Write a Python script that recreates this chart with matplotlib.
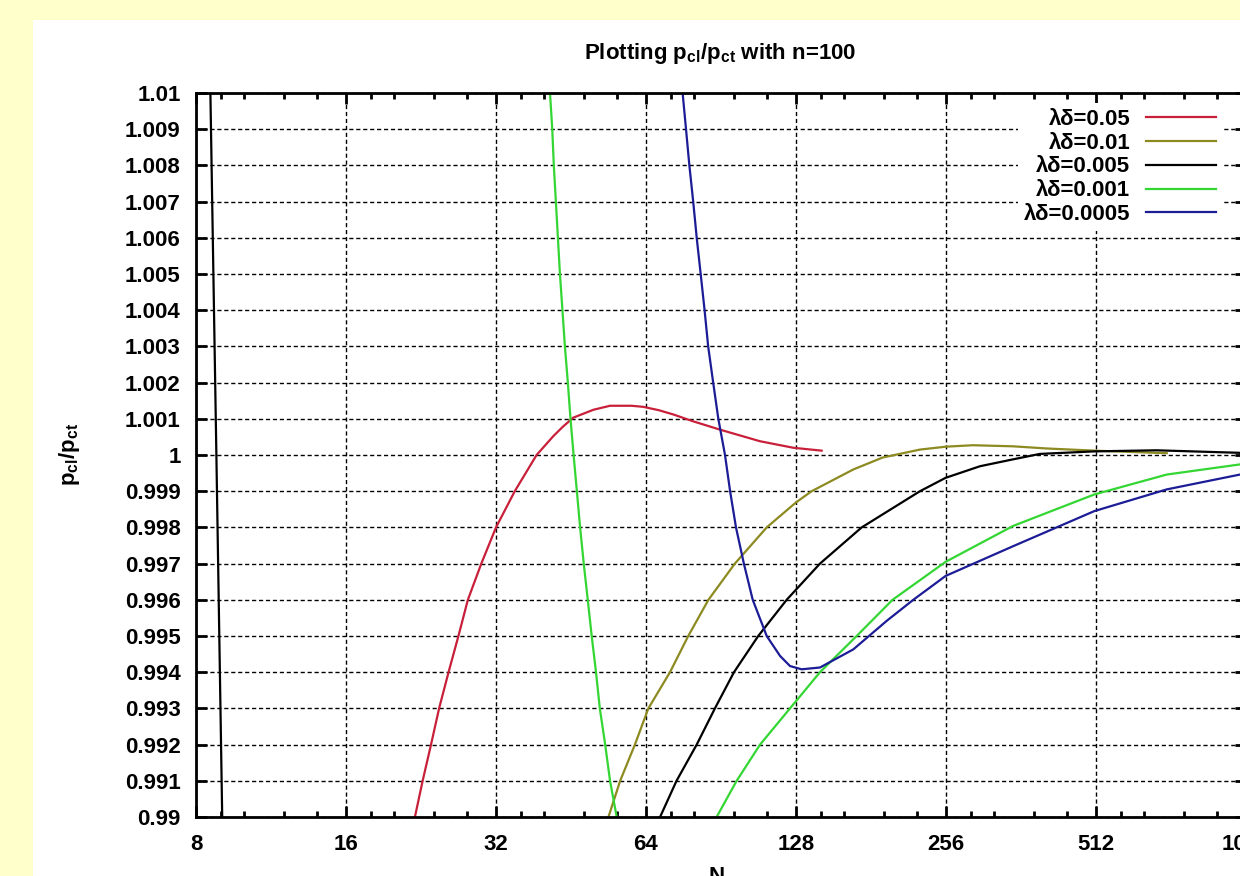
import matplotlib.pyplot as plt
from matplotlib.patches import Rectangle
from matplotlib.ticker import FixedLocator, NullFormatter

plt.rcParams['font.family'] = ['Liberation Sans', 'DejaVu Sans']
plt.rcParams['font.weight'] = 'bold'
plt.rcParams['mathtext.fontset'] = 'custom'
plt.rcParams['mathtext.rm'] = 'Liberation Sans:bold'
plt.rcParams['mathtext.default'] = 'rm'

# series values (N, p_cl/p_ct)
red_N = [22.0, 22.8, 23.7, 24.6, 25.7, 26.9, 28.1, 29.9, 32.0, 34.9, 38.6, 41.7, 43.5, 45.7,
         50.2, 54.2, 59.9, 63.2, 67.8, 72.6, 79.6, 90.1, 108.4, 126.4, 144.1]
red_v = [0.990, 0.991, 0.992, 0.993, 0.994, 0.995, 0.996, 0.997, 0.998, 0.999, 1.000, 1.00052,
         1.00077, 1.00103, 1.00125, 1.00136, 1.00136, 1.00133, 1.00124, 1.00112, 1.00093,
         1.0007, 1.00038, 1.0002, 1.00012]

olive_N = [53.8, 56.8, 60.8, 64.7, 71.5, 77.8, 85.4, 96.5, 111.8, 128, 137.6, 166.8, 191,
           227, 256, 290, 349, 408, 508, 710]
olive_v = [0.990, 0.991, 0.992, 0.993, 0.994, 0.995, 0.996, 0.997, 0.998, 0.99869, 0.999,
           0.9996, 0.99993, 1.00015, 1.00023, 1.00027, 1.00024, 1.00018, 1.00012, 1.00005]

black_N1 = [8.55, 8.79, 9.03]
black_v1 = [1.010, 1.000, 0.990]
black_N2 = [68.3, 73.7, 80.9, 88.0, 96.1, 107.5, 122.6, 143, 173.4, 227, 255.6, 299.6,
            349, 395, 508, 677, 996]
black_v2 = [0.990, 0.991, 0.992, 0.993, 0.994, 0.995, 0.996, 0.997, 0.998, 0.999, 0.99937,
            0.99969, 0.99988, 1.00003, 1.0001, 1.00013, 1.00006]

green_N1 = [41.07, 41.5, 41.8, 42.2, 42.6, 43.0, 43.5, 44.0, 44.6, 45.15, 45.8, 46.5, 47.2,
            48.0, 48.9, 49.8, 50.8, 51.7, 53.0, 54.2, 55.9]
green_v1 = [1.010, 1.009, 1.008, 1.007, 1.006, 1.005, 1.004, 1.003, 1.002, 1.001, 1.000, 0.999,
            0.998, 0.997, 0.996, 0.995, 0.994, 0.993, 0.992, 0.991, 0.990]
green_N2 = [88.7, 97.3, 108.4, 124.5, 143, 169.4, 200, 255.6, 349, 508, 710, 996]
green_v2 = [0.990, 0.991, 0.992, 0.993, 0.994, 0.995, 0.996, 0.99705, 0.99804, 0.99891,
            0.99946, 0.99974]

blue_N = [75.8, 77.0, 78.2, 79.6, 80.9, 82.4, 83.9, 85.3, 87.3, 89.4, 92.2, 94.4, 97.0, 100.6,
          104.8, 111.8, 118.9, 124.5, 131.4, 143, 166.8, 194.7, 220.1, 255.6, 349, 508, 710, 996]
blue_v = [1.010, 1.009, 1.008, 1.007, 1.006, 1.005, 1.004, 1.003, 1.002, 1.001, 1.000, 0.999,
          0.998, 0.997, 0.996, 0.995, 0.99445, 0.99417, 0.99408, 0.99413, 0.99463, 0.99542,
          0.996, 0.99666, 0.99748, 0.99845, 0.99905, 0.99946]

labels = ['λδ=0.05', 'λδ=0.01', 'λδ=0.005', 'λδ=0.001', 'λδ=0.0005']
xticks = [8, 16, 32, 64, 128, 256, 512, 1024]
yticks = [0.99 + i * 0.001 for i in range(21)]

fig = plt.figure(figsize=(12.4, 8.76), dpi=100, facecolor='#ffffcc')
fig.patches.append(Rectangle((33 / 1240, 0), 1.0, 1 - 20 / 876, transform=fig.transFigure,
                             facecolor='white', edgecolor='none', zorder=-1))

ax = fig.add_axes([196 / 1240, 59 / 876, 1050 / 1240, 724 / 876])
ax.set_xscale('log', base=2)

lw = 1.6
ax.plot(red_N, red_v, color='#c8203a', lw=lw, label=labels[0])
ax.plot(olive_N, olive_v, color='#8c8a20', lw=lw, label=labels[1])
ax.plot(black_N2, black_v2, color='black', lw=lw, label=labels[2])
ax.plot(black_N1, black_v1, color='black', lw=lw)
ax.plot(green_N2, green_v2, color='#33d633', lw=lw, label=labels[3])
ax.plot(green_N1, green_v1, color='#33d633', lw=lw)
ax.plot(blue_N, blue_v, color='#1c1c96', lw=lw, label=labels[4])

ax.set_xlim(8, 1024)
ax.set_ylim(0.99, 1.01)
ax.xaxis.set_major_locator(FixedLocator(xticks))
ax.set_xticklabels([str(t) for t in xticks])
minor = [b * f for b in xticks[:-1] for f in (1.125, 1.25, 1.5, 1.75)]
ax.xaxis.set_minor_locator(FixedLocator(minor))
ax.xaxis.set_minor_formatter(NullFormatter())
ax.set_yticks(yticks)
ax.set_yticklabels([f'{round(v, 3):g}' for v in yticks])
ax.yaxis.set_minor_locator(FixedLocator([]))

ax.tick_params(which='both', direction='in', top=True, right=True, width=2, labelsize=16)
ax.tick_params(which='major', length=8)
ax.tick_params(which='minor', length=4)
ax.tick_params(axis='y', pad=11)
ax.tick_params(axis='x', pad=12)
for s in ax.spines.values():
    s.set_linewidth(2)

ax.grid(True, which='major', color='black', linestyle=(0, (3, 2)), linewidth=1)

leg = ax.legend(loc='upper right', bbox_to_anchor=(1233 / 1240, 1 - 92 / 876),
                bbox_transform=fig.transFigure, markerfirst=False, frameon=True,
                framealpha=1, edgecolor='none', fancybox=False, fontsize=16,
                handlelength=3.15, handletextpad=0.72, labelspacing=0.13, borderpad=0.25)

fig.text(720 / 1240, 1 - 53 / 876, 'Plotting p$_{cl}$/p$_{ct}$ with n=100',
         ha='center', va='center', fontsize=16)
fig.text(69 / 1240, 1 - 454 / 876, 'p$_{cl}$/p$_{ct}$', rotation=90,
         ha='center', va='center', fontsize=16)
fig.text(717 / 1240, 1 - 866 / 876, 'N', ha='center', va='top', fontsize=16)

fig.savefig('out.png', dpi=100, facecolor=fig.get_facecolor())
